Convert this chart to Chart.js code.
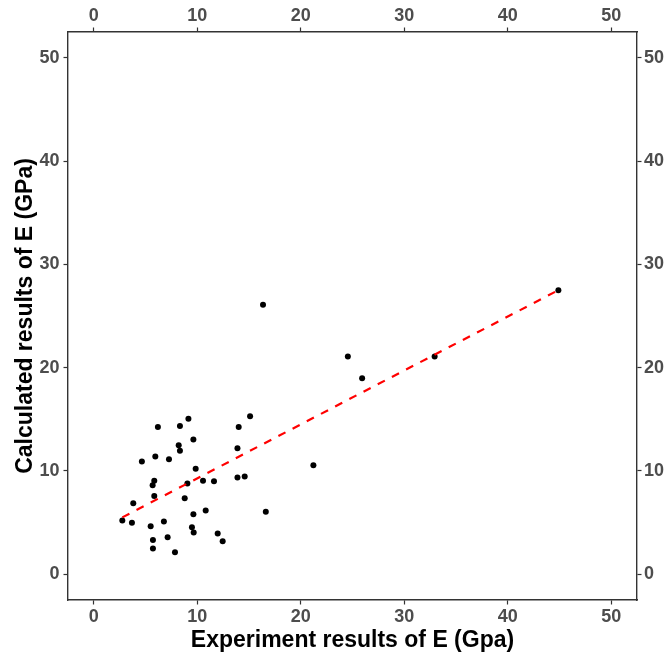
<!DOCTYPE html>
<html lang="en">
  <head>
    <meta charset="UTF-8" />
    <title>Calculated vs experiment E</title>
    <script src="https://cdn.jsdelivr.net/npm/chart.js"></script>
    <style>
      body {
        margin: 0;
        padding: 0;
        background: #ffffff;
      }
      .wrap {
        width: 668px;
        height: 659px;
      }
    </style>
  </head>
  <body>
    <div class="wrap"><canvas id="scatter"></canvas></div>

    <script>
      // experiment (x) vs calculated (y) modulus, GPa
      const expE = [
        6.19, 8.32, 9.14, 15.1, 14.0, 9.62, 8.2, 8.32, 13.88, 4.64, 5.94,
        7.26, 9.84, 5.84, 5.68, 9.04, 10.55, 11.61, 13.88, 14.58, 5.84, 8.78,
        3.81, 10.81, 9.62, 16.62, 2.75, 3.68, 5.49, 6.77, 9.48, 9.65, 11.97,
        12.45, 7.13, 5.71, 5.71, 7.84, 16.35, 24.55, 25.93, 32.94, 44.9, 21.22,
      ];
      const calcE = [
        14.24, 14.36, 15.04, 15.3, 14.24, 13.04, 12.49, 11.94, 12.2, 10.91,
        11.4, 11.14, 10.2, 9.04, 8.62, 8.78, 9.04, 9.01, 9.36, 9.46, 7.58,
        7.36, 6.88, 6.17, 5.81, 6.04, 5.2, 4.97, 4.65, 5.1, 4.55, 4.04, 3.94,
        3.2, 3.58, 3.32, 2.49, 2.13, 26.08, 21.08, 18.98, 21.08, 27.5, 10.56,
      ];
      // linear fit, drawn over the range of the data
      const fitX = [2.75, 44.9];
      const fitY = [5.5, 27.5];
      const tickVals = [0, 10, 20, 30, 40, 50];

      const axisColor = "#333333";
      const tickColor = "#4d4d4d";
      const tickFont = { family: "Liberation Sans, Arial", size: 18, weight: "bold" };
      const titleFont = { family: "Liberation Sans, Arial", size: 23, weight: "bold" };

      function setTicks(axis) {
        axis.ticks = tickVals.map((v) => ({ value: v }));
      }

      function makeAxis(position, size, pad, title) {
        const horiz = position === "top" || position === "bottom";
        return {
          type: "linear",
          position: position,
          min: -2.5,
          max: 52.5,
          afterBuildTicks: setTicks,
          afterFit: (s) => {
            if (horiz) s.height = size;
            else s.width = size;
          },
          grid: {
            drawOnChartArea: false,
            drawTicks: true,
            tickLength: 4.5,
            tickWidth: 1.2,
            color: axisColor,
          },
          border: { display: true, color: axisColor, width: 1.4 },
          ticks: {
            color: tickColor,
            font: tickFont,
            padding: pad,
            maxRotation: 0,
          },
          title: title
            ? {
                display: true,
                text: title,
                color: "#000000",
                font: titleFont,
                padding: horiz ? { top: 0, bottom: 5 } : { top: 12, bottom: 0 },
              }
            : { display: false },
        };
      }

      const points = expE.map((x, i) => ({ x: x, y: calcE[i] }));
      const fitLine = fitX.map((x, i) => ({ x: x, y: fitY[i] }));

      new Chart(document.getElementById("scatter"), {
        type: "scatter",
        data: {
          datasets: [
            {
              label: "fit",
              data: fitLine,
              showLine: true,
              borderColor: "#ff0000",
              borderWidth: 2.2,
              borderDash: [8, 8],
              pointRadius: 0,
              xAxisID: "x",
              yAxisID: "y",
            },
            {
              label: "E",
              data: points,
              backgroundColor: "#000000",
              borderColor: "#000000",
              pointRadius: 3,
              borderWidth: 0,
              xAxisID: "x",
              yAxisID: "y",
            },
          ],
        },
        options: {
          responsive: true,
          maintainAspectRatio: false,
          animation: false,
          layout: { padding: 0 },
          plugins: {
            legend: { display: false },
            tooltip: { enabled: false },
          },
          scales: {
            x: makeAxis("bottom", 59, 2, "Experiment results of E (Gpa)"),
            x2: makeAxis("top", 32, 1, null),
            y: makeAxis("left", 68, 4, "Calculated results of E (GPa)"),
            y2: makeAxis("right", 31, 2.5, null),
          },
        },
      });
    </script>
  </body>
</html>
